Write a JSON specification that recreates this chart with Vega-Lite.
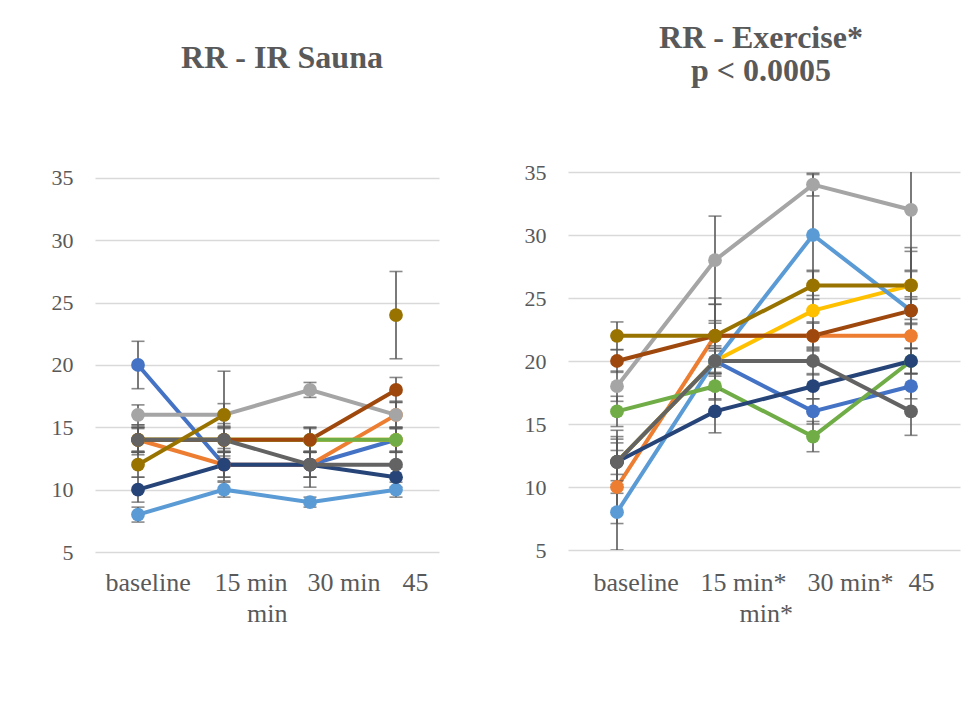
{
  "$schema": "https://vega.github.io/schema/vega-lite/v6.json",
  "background": "white",
  "padding": {"left": 51, "top": 22, "right": 10, "bottom": 10},
  "config": {"view": {"stroke": null}, "font": "Liberation Serif"},
  "bounds": "flush",
  "spacing": 129,
  "datasets": {
    "sauna": [
      {"s": "S1", "t": "baseline", "v": 20, "lo": 18.1, "hi": 21.9},
      {"s": "S1", "t": "15 min", "v": 12, "lo": 11, "hi": 13},
      {"s": "S1", "t": "30 min", "v": 12, "lo": 11, "hi": 13},
      {"s": "S1", "t": "45", "v": 14, "lo": 13, "hi": 15},
      {"s": "S2", "t": "baseline", "v": 14, "lo": 13, "hi": 15},
      {"s": "S2", "t": "15 min", "v": 12, "lo": 11, "hi": 13},
      {"s": "S2", "t": "30 min", "v": 12, "lo": 11, "hi": 13},
      {"s": "S2", "t": "45", "v": 16, "lo": 15, "hi": 17},
      {"s": "S3", "t": "baseline", "v": 16, "lo": 15.2, "hi": 16.8},
      {"s": "S3", "t": "15 min", "v": 16, "lo": 15.1, "hi": 16.9},
      {"s": "S3", "t": "30 min", "v": 18, "lo": 17.4, "hi": 18.6},
      {"s": "S3", "t": "45", "v": 16, "lo": 14.9, "hi": 17.1},
      {"s": "S4", "t": "baseline", "v": 14, "lo": 13, "hi": 15},
      {"s": "S4", "t": "15 min", "v": 14, "lo": 13, "hi": 15},
      {"s": "S4", "t": "30 min", "v": 14, "lo": 13, "hi": 15},
      {"s": "S4", "t": "45", "v": 14, "lo": 13, "hi": 15},
      {"s": "S5", "t": "baseline", "v": 8, "lo": 7.4, "hi": 8.6},
      {"s": "S5", "t": "15 min", "v": 10, "lo": 9.4, "hi": 10.6},
      {"s": "S5", "t": "30 min", "v": 9, "lo": 8.6, "hi": 9.4},
      {"s": "S5", "t": "45", "v": 10, "lo": 9.4, "hi": 10.6},
      {"s": "S6", "t": "baseline", "v": 14, "lo": 13.1, "hi": 14.9},
      {"s": "S6", "t": "15 min", "v": 14, "lo": 13.1, "hi": 14.9},
      {"s": "S6", "t": "30 min", "v": 14, "lo": 13.1, "hi": 14.9},
      {"s": "S6", "t": "45", "v": 14, "lo": 13.1, "hi": 14.9},
      {"s": "S7", "t": "baseline", "v": 10, "lo": 9, "hi": 11},
      {"s": "S7", "t": "15 min", "v": 12, "lo": 10.7, "hi": 13.3},
      {"s": "S7", "t": "30 min", "v": 12, "lo": 11, "hi": 13},
      {"s": "S7", "t": "45", "v": 11, "lo": 10.2, "hi": 11.8},
      {"s": "S8", "t": "baseline", "v": 14, "lo": 13, "hi": 15},
      {"s": "S8", "t": "15 min", "v": 14, "lo": 13, "hi": 15},
      {"s": "S8", "t": "30 min", "v": 14, "lo": 13, "hi": 15},
      {"s": "S8", "t": "45", "v": 18, "lo": 17, "hi": 19},
      {"s": "S9", "t": "baseline", "v": 14, "lo": 12.8, "hi": 15.2},
      {"s": "S9", "t": "15 min", "v": 14, "lo": 12.7, "hi": 15.3},
      {"s": "S9", "t": "30 min", "v": 12, "lo": 10.2, "hi": 13.8},
      {"s": "S9", "t": "45", "v": 12, "lo": 11, "hi": 13},
      {"s": "S10", "t": "baseline", "v": 12, "lo": 11, "hi": 13},
      {"s": "S10", "t": "15 min", "v": 16, "lo": 12.5, "hi": 19.5},
      {"s": "S10", "t": "30 min", "v": null, "lo": null, "hi": null},
      {"s": "S10", "t": "45", "v": 24, "lo": 20.5, "hi": 27.5}
    ],
    "exercise": [
      {"s": "S1", "t": "baseline", "v": 12, "lo": 10, "hi": 14},
      {"s": "S1", "t": "15 min*", "v": 20, "lo": 17, "hi": 23},
      {"s": "S1", "t": "30 min*", "v": 16, "lo": 15, "hi": 17},
      {"s": "S1", "t": "45", "v": 18, "lo": 17, "hi": 19},
      {"s": "S2", "t": "baseline", "v": 10, "lo": 7.1, "hi": 12.9},
      {"s": "S2", "t": "15 min*", "v": 22, "lo": 19.5, "hi": 24.5},
      {"s": "S2", "t": "30 min*", "v": 22, "lo": 20.9, "hi": 23.1},
      {"s": "S2", "t": "45", "v": 22, "lo": 21, "hi": 23},
      {"s": "S3", "t": "baseline", "v": 18, "lo": 16.8, "hi": 19.2},
      {"s": "S3", "t": "15 min*", "v": 28, "lo": 24.5, "hi": 31.5},
      {"s": "S3", "t": "30 min*", "v": 34, "lo": 33.1, "hi": 34.9},
      {"s": "S3", "t": "45", "v": 32, "lo": 27.2, "hi": 36.8},
      {"s": "S4", "t": "baseline", "v": 12, "lo": 10.5, "hi": 13.5},
      {"s": "S4", "t": "15 min*", "v": 20, "lo": 18.8, "hi": 21.2},
      {"s": "S4", "t": "30 min*", "v": 24, "lo": 20.8, "hi": 27.2},
      {"s": "S4", "t": "45", "v": 26, "lo": 23.3, "hi": 28.7},
      {"s": "S5", "t": "baseline", "v": 8, "lo": 5, "hi": 11},
      {"s": "S5", "t": "15 min*", "v": 20, "lo": 19, "hi": 21},
      {"s": "S5", "t": "30 min*", "v": 30, "lo": 25.2, "hi": 34.8},
      {"s": "S5", "t": "45", "v": 24, "lo": 19, "hi": 29},
      {"s": "S6", "t": "baseline", "v": 16, "lo": 14.8, "hi": 17.2},
      {"s": "S6", "t": "15 min*", "v": 18, "lo": 16.9, "hi": 19.1},
      {"s": "S6", "t": "30 min*", "v": 14, "lo": 12.8, "hi": 15.2},
      {"s": "S6", "t": "45", "v": 20, "lo": 19, "hi": 21},
      {"s": "S7", "t": "baseline", "v": 12, "lo": 10.2, "hi": 13.8},
      {"s": "S7", "t": "15 min*", "v": 16, "lo": 14.3, "hi": 17.7},
      {"s": "S7", "t": "30 min*", "v": 18, "lo": 17, "hi": 19},
      {"s": "S7", "t": "45", "v": 20, "lo": 19, "hi": 21},
      {"s": "S8", "t": "baseline", "v": 20, "lo": 19.1, "hi": 20.9},
      {"s": "S8", "t": "15 min*", "v": 22, "lo": 19, "hi": 25},
      {"s": "S8", "t": "30 min*", "v": 22, "lo": 21, "hi": 23},
      {"s": "S8", "t": "45", "v": 24, "lo": 22.9, "hi": 25.1},
      {"s": "S9", "t": "baseline", "v": 12, "lo": 9.5, "hi": 14.5},
      {"s": "S9", "t": "15 min*", "v": 20, "lo": 19, "hi": 21},
      {"s": "S9", "t": "30 min*", "v": 20, "lo": 18.9, "hi": 21.1},
      {"s": "S9", "t": "45", "v": 16, "lo": 14.1, "hi": 17.9},
      {"s": "S10", "t": "baseline", "v": 22, "lo": 20.9, "hi": 23.1},
      {"s": "S10", "t": "15 min*", "v": 22, "lo": 20.8, "hi": 23.2},
      {"s": "S10", "t": "30 min*", "v": 26, "lo": 24.9, "hi": 27.1},
      {"s": "S10", "t": "45", "v": 26, "lo": 24.9, "hi": 27.1}
    ]
  },
  "hconcat": [
    {
      "data": {"name": "sauna"},
      "width": 344,
      "height": 380,
      "title": {"text": "RR - IR Sauna", "frame": "group", "anchor": "middle", "dx": 15, "baseline": "alphabetic", "offset": 67, "fontSize": 32, "fontWeight": "bold", "color": "#595959", "font": "Liberation Serif"},
      "encoding": {
        "x": {"field": "t", "type": "ordinal", "sort": null,
          "scale": {"type": "point", "padding": 0.5, "domain": ["baseline", "15 min", "30 min", "45"]},
          "axis": {"title": null, "domain": false, "ticks": false, "grid": false, "labelAngle": 0,
            "labelFont": "Liberation Serif", "labelFontSize": 26, "labelColor": "#595959",
            "labelAlign": "left",
            "labelOffset": {"condition": [{"test": "datum.value === 'baseline'", "value": -33}, {"test": "datum.value === '15 min'", "value": -10}, {"test": "datum.value === '30 min'", "value": -3}], "value": 6},
            "labelBaseline": "alphabetic", "labelPadding": 38, "labelLineHeight": 31, "labelOverlap": false,
            "labelExpr": "datum.value === '15 min' ? ['15 min', '\u200b\u00a0\u00a0\u00a0\u00a0\u00a0min'] : datum.value"}},
        "color": {"field": "s", "type": "nominal", "legend": null,
          "scale": {"domain": ["S1","S2","S3","S4","S5","S6","S7","S8","S9","S10"],
            "range": ["#4472C4","#ED7D31","#A5A5A5","#FFC000","#5B9BD5","#70AD47","#264478","#9E480E","#636363","#997300"]}}
      },
      "layer": [
        {"mark": {"type": "line", "strokeWidth": 4, "invalid": "break-paths-show-domains"},
          "encoding": {"y": {"field": "v", "type": "quantitative",
            "scale": {"domain": [5, 35.48], "nice": false, "zero": false},
            "axis": {"title": null, "values": [5,10,15,20,25,30,35], "domain": false, "ticks": false,
              "grid": true, "gridColor": "#D9D9D9", "gridWidth": 1.3,
              "labelFont": "Liberation Serif", "labelFontSize": 22, "labelColor": "#595959", "labelPadding": 22}}}},
        {"mark": {"type": "rule", "strokeWidth": 1.6, "clip": true},
          "encoding": {"y": {"field": "lo", "type": "quantitative"}, "y2": {"field": "hi"}, "color": {"value": "#595959"}}},
        {"mark": {"type": "tick", "thickness": 1.6, "size": 13, "clip": true},
          "encoding": {"y": {"field": "lo", "type": "quantitative"}, "color": {"value": "#595959"}}},
        {"mark": {"type": "tick", "thickness": 1.6, "size": 13, "clip": true},
          "encoding": {"y": {"field": "hi", "type": "quantitative"}, "color": {"value": "#595959"}}},
        {"mark": {"type": "point", "filled": true, "opacity": 1, "size": 190},
          "encoding": {"y": {"field": "v", "type": "quantitative"}}}
      ]
    },
    {
      "data": {"name": "exercise"},
      "width": 392,
      "height": 378,
      "title": {"text": ["RR - Exercise*", "p < 0.0005"], "frame": "group", "anchor": "middle", "dx": -3, "baseline": "alphabetic", "offset": 48, "lineHeight": 33, "fontSize": 32, "fontWeight": "bold", "color": "#595959", "font": "Liberation Serif"},
      "encoding": {
        "x": {"field": "t", "type": "ordinal", "sort": null,
          "scale": {"type": "point", "padding": 0.5, "domain": ["baseline", "15 min*", "30 min*", "45"]},
          "axis": {"title": null, "domain": false, "ticks": false, "grid": false, "labelAngle": 0,
            "labelFont": "Liberation Serif", "labelFontSize": 26, "labelColor": "#595959",
            "labelAlign": "left",
            "labelOffset": {"condition": [{"test": "datum.value === 'baseline'", "value": -24}, {"test": "datum.value === '15 min*'", "value": -15}, {"test": "datum.value === '30 min*'", "value": -6}], "value": -3},
            "labelBaseline": "alphabetic", "labelPadding": 40, "labelLineHeight": 31, "labelOverlap": false,
            "labelExpr": "datum.value === '15 min*' ? ['15 min*', '\u200b\u00a0\u00a0\u00a0\u00a0\u00a0\u00a0min*'] : datum.value"}},
        "color": {"field": "s", "type": "nominal", "legend": null,
          "scale": {"domain": ["S1","S2","S3","S4","S5","S6","S7","S8","S9","S10"],
            "range": ["#4472C4","#ED7D31","#A5A5A5","#FFC000","#5B9BD5","#70AD47","#264478","#9E480E","#636363","#997300"]}}
      },
      "layer": [
        {"mark": {"type": "line", "strokeWidth": 4, "invalid": "break-paths-show-domains"},
          "encoding": {"y": {"field": "v", "type": "quantitative",
            "scale": {"domain": [5, 35], "nice": false, "zero": false},
            "axis": {"title": null, "values": [5,10,15,20,25,30,35], "domain": false, "ticks": false,
              "grid": true, "gridColor": "#D9D9D9", "gridWidth": 1.3,
              "labelFont": "Liberation Serif", "labelFontSize": 22, "labelColor": "#595959", "labelPadding": 22}}}},
        {"mark": {"type": "rule", "strokeWidth": 1.6, "clip": true},
          "encoding": {"y": {"field": "lo", "type": "quantitative"}, "y2": {"field": "hi"}, "color": {"value": "#595959"}}},
        {"mark": {"type": "tick", "thickness": 1.6, "size": 13, "clip": true},
          "encoding": {"y": {"field": "lo", "type": "quantitative"}, "color": {"value": "#595959"}}},
        {"mark": {"type": "tick", "thickness": 1.6, "size": 13, "clip": true},
          "encoding": {"y": {"field": "hi", "type": "quantitative"}, "color": {"value": "#595959"}}},
        {"mark": {"type": "point", "filled": true, "opacity": 1, "size": 190},
          "encoding": {"y": {"field": "v", "type": "quantitative"}}}
      ]
    }
  ]
}
